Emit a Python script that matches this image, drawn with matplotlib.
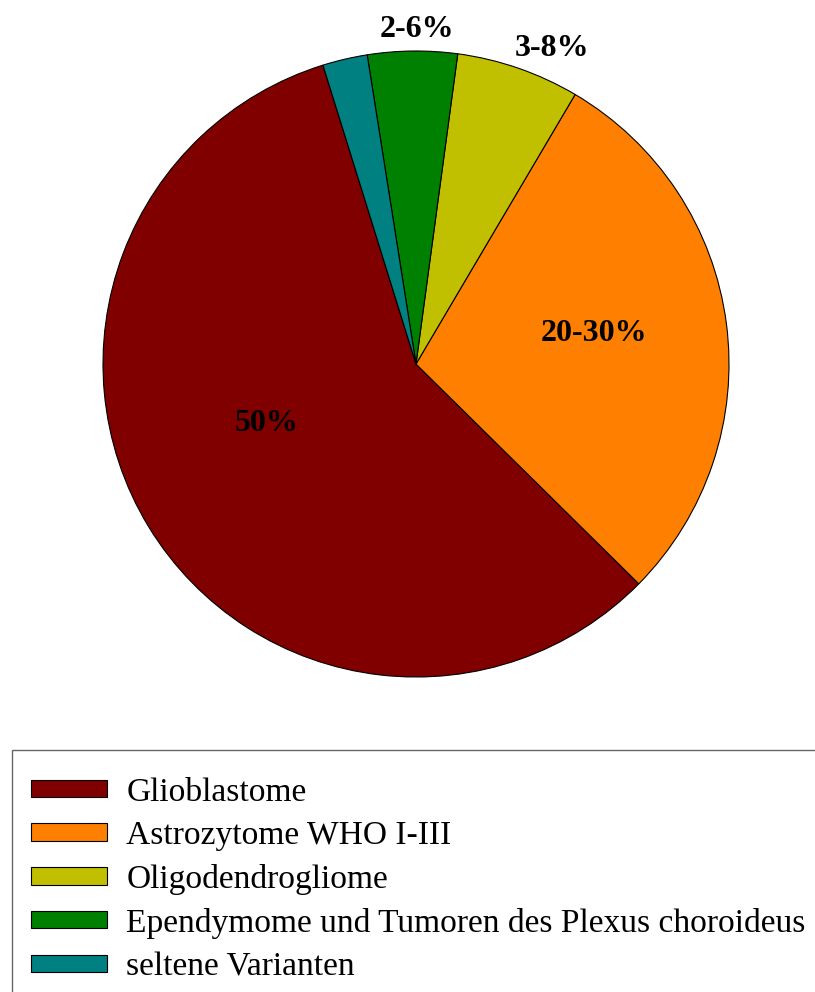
import numpy as np
import matplotlib
matplotlib.use("Agg")
import matplotlib.pyplot as plt
from matplotlib.patches import Rectangle

# Tumour types and their approximate shares (midpoints of the stated ranges)
categories = [
    "Glioblastome",
    "Astrozytome WHO I-III",
    "Oligodendrogliome",
    "Ependymome und Tumoren des Plexus choroideus",
    "seltene Varianten",
]
shares = [50, 25, 5.5, 4, 2]
share_labels = ["50%", "20-30%", "3-8%", "2-6%", None]
colors = ["#800000", "#FF8000", "#C0C000", "#008000", "#008080"]

W, H = 815, 992
fig = plt.figure(figsize=(W / 100, H / 100), dpi=100)
ax = fig.add_axes([0, 0, 1, 1])

cx, cy, R = 416, H - 364, 313
wedges, _ = ax.pie(
    shares,
    colors=colors,
    startangle=107.3,
    counterclock=True,
    center=(cx, cy),
    radius=R,
    wedgeprops=dict(edgecolor="black", linewidth=0.8),
)
ax.set_xlim(0, W)
ax.set_ylim(0, H)
ax.set_aspect("equal")
ax.axis("off")

# value labels: (radius fraction, angle in degrees) for each wedge
label_pos = [(0.51, 200.5), (0.58, 10.8), (1.108, 66.9), (1.08, 89.8), None]
for text, pos in zip(share_labels, label_pos):
    if text is None:
        continue
    rf, ang = pos
    x = cx + rf * R * np.cos(np.radians(ang))
    y = cy + rf * R * np.sin(np.radians(ang)) - 3.5
    ax.text(x, y, text, ha="center", va="center",
            fontsize=23, fontweight="bold", family="Liberation Serif")

# legend box outline, running off the right and bottom edges of the figure
fig.patches.append(Rectangle((12 / W, -0.1), 1.0, (H - 750) / H + 0.1,
                             transform=fig.transFigure, facecolor="none",
                             edgecolor="#666666", linewidth=1.0))

leg = ax.legend(
    wedges, categories,
    loc="upper left",
    bbox_to_anchor=(12 / W, 1 - 758 / H),
    bbox_transform=fig.transFigure,
    prop=dict(family="Liberation Serif", size=24.1),
    handlelength=2.27, handleheight=0.42,
    handletextpad=0.57, labelspacing=0.385,
    borderpad=0.57, borderaxespad=0,
    frameon=False,
)

fig.savefig("out.png", dpi=100)
